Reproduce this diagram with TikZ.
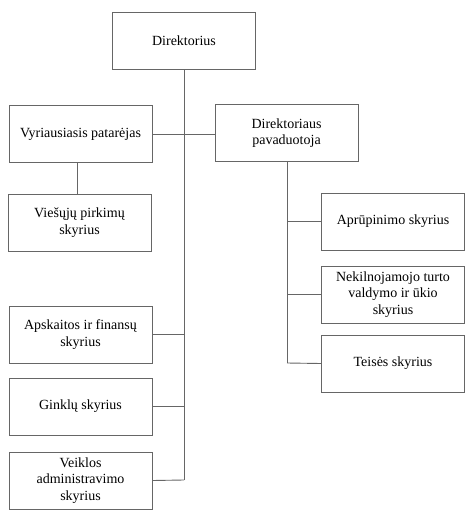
\documentclass[tikz,border=0pt]{standalone}
\usepackage{fontspec}
\setmainfont{Liberation Serif}
\begin{document}
\begin{tikzpicture}[x=1pt,y=-1pt,
  box/.style={draw=black!60, line width=0.9pt, minimum width=143pt, minimum height=57pt, align=center, inner sep=2pt, font=\fontsize{14}{16.5}\selectfont, text=black},
  conn/.style={draw=black!60, line width=0.9pt}]
\useasboundingbox (0,0) rectangle (474,519);
\node[box] (dir) at (184,40.5) {Direktorius};
\node[box] (vyr) at (80.5,134) {Vyriausiasis patarėjas};
\node[box] (pav) at (286.5,133) {Direktoriaus\\pavaduotoja};
\node[box] (vie) at (79.5,222.5) {Viešųjų pirkimų\\skyrius};
\node[box] (apr) at (393,221.5) {Aprūpinimo skyrius};
\node[box] (nek) at (393,294.5) {Nekilnojamojo turto\\valdymo ir ūkio\\skyrius};
\node[box] (tei) at (393,363.5) {Teisės skyrius};
\node[box] (aps) at (80.5,334.5) {Apskaitos ir finansų\\skyrius};
\node[box] (gin) at (80.5,406.5) {Ginklų skyrius};
\node[box] (vei) at (80.5,480.5) {Veiklos\\administravimo\\skyrius};
\coordinate (mainend) at (184,480);
\coordinate (pavend) at (287,363);
\draw[conn] (dir.south) -- (mainend);
\draw[conn] (vyr.east) -- (pav.west |- vyr.east);
\draw[conn] (vyr.south -| 77,0) -- (vie.north -| 77,0);
\draw[conn] (pav.south -| pavend) -- (pavend);
\draw[conn] (pavend |- apr.west) -- (apr.west);
\draw[conn] (pavend |- nek.west) -- (nek.west);
\draw[conn] (pavend) -- (tei.west);
\draw[conn] (aps.east) -- (mainend |- aps.east);
\draw[conn] (gin.east) -- (mainend |- gin.east);
\draw[conn] (vei.east) -- (mainend);
\end{tikzpicture}
\end{document}
